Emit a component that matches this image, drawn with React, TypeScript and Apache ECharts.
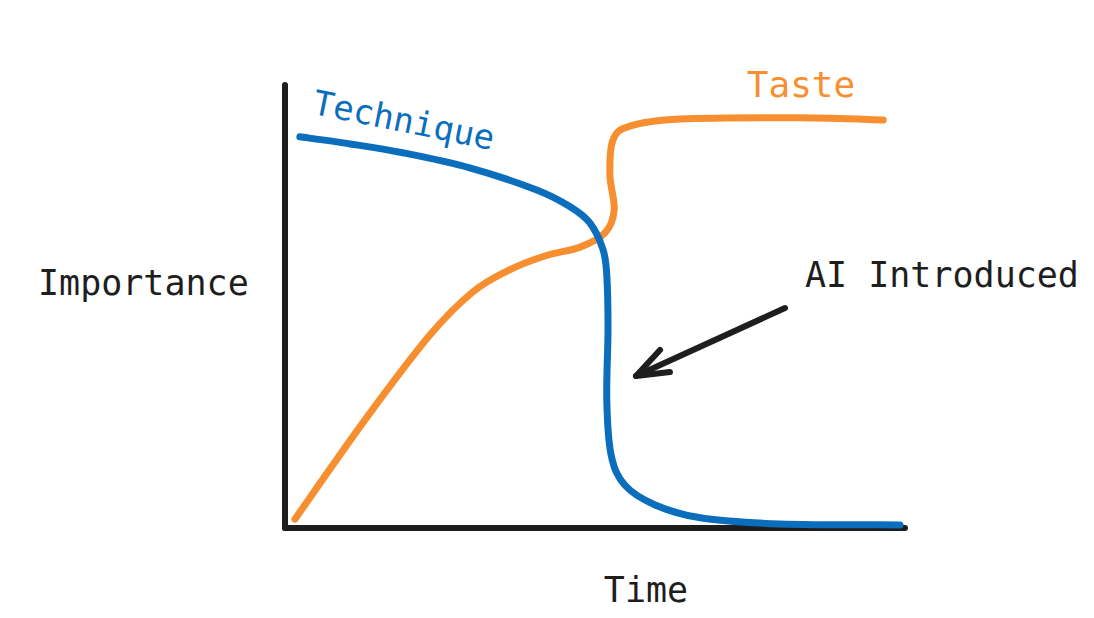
import React, { useEffect, useRef } from "react";
import * as echarts from "echarts";

const techniqueX = [2.4, 10.5, 19.0, 29.8, 40.6, 46.0, 49.2, 51.3, 51.9, 52.1, 51.9, 52.6, 54.8, 59.7, 67.0, 79.8, 99.2];
const techniqueY = [88.3, 86.7, 84.7, 81.3, 76.3, 72.5, 68.8, 62.8, 57.1, 45.0, 28.9, 16.5, 9.7, 5.2, 2.3, 0.9, 0.7];

const tasteX = [1.6, 12.9, 23.4, 30.3, 35.8, 41.9, 47.6, 51.6, 53.1, 52.4, 52.9, 55.6, 63.7, 83.1, 96.5];
const tasteY = [2.0, 24.4, 43.6, 53.3, 58.0, 61.4, 63.4, 66.6, 71.8, 79.7, 87.6, 90.7, 92.3, 92.6, 92.1];

const seriesNames = ["Technique", "Taste"];
const axisNames = { x: "Time", y: "Importance" };
const annotation = "AI Introduced";

const BLUE = "#0a6ebd";
const ORANGE = "#f78f30";
const INK = "#1e1e1e";
const FONT = "DejaVu Sans Mono";

function smoothPath(pts: number[][]): string {
  let d = `M${pts[0][0]},${pts[0][1]}`;
  for (let i = 0; i < pts.length - 1; i++) {
    const p0 = pts[i - 1] || pts[i];
    const p1 = pts[i];
    const p2 = pts[i + 1];
    const p3 = pts[i + 2] || p2;
    const c1x = p1[0] + (p2[0] - p0[0]) / 6;
    const c1y = p1[1] + (p2[1] - p0[1]) / 6;
    const c2x = p2[0] - (p3[0] - p1[0]) / 6;
    const c2y = p2[1] - (p3[1] - p1[1]) / 6;
    d += ` C${c1x},${c1y} ${c2x},${c2y} ${p2[0]},${p2[1]}`;
  }
  return d;
}

function curveSeries(name: string, xs: number[], ys: number[], color: string, z: number) {
  return {
    name,
    type: "custom",
    data: xs.map((x, i) => [x, ys[i]]),
    encode: { x: 0, y: 1 },
    z,
    renderItem: (params: any, api: any) => {
      if (params.dataIndex !== 0) return null;
      const pts = xs.map((x, i) => api.coord([x, ys[i]]));
      return {
        type: "path",
        shape: { pathData: smoothPath(pts) },
        style: { stroke: color, lineWidth: 7, fill: null, lineCap: "round", lineJoin: "round" },
      };
    },
  };
}

export default function App() {
  const ref = useRef<HTMLDivElement>(null);
  useEffect(() => {
    if (!ref.current) return;
    const chart = echarts.init(ref.current, null, { renderer: "svg" });
    chart.setOption({
      animation: false,
      backgroundColor: "#ffffff",
      grid: { left: 285, top: 85, right: 189, bottom: 90 },
      xAxis: {
        type: "value",
        min: 0,
        max: 100,
        axisLine: { show: true, lineStyle: { color: INK, width: 6, cap: "round" } },
        axisTick: { show: false },
        axisLabel: { show: false },
        splitLine: { show: false },
      },
      yAxis: {
        type: "value",
        min: 0,
        max: 100,
        axisLine: { show: true, lineStyle: { color: INK, width: 6, cap: "round" } },
        axisTick: { show: false },
        axisLabel: { show: false },
        splitLine: { show: false },
      },
      series: [
        curveSeries(seriesNames[1], tasteX, tasteY, ORANGE, 2),
        curveSeries(seriesNames[0], techniqueX, techniqueY, BLUE, 3),
      ],
      graphic: [
        {
          type: "text",
          x: 38,
          y: 283,
          style: { text: axisNames.y, font: `35px '${FONT}'`, fill: INK, textVerticalAlign: "middle" },
        },
        {
          type: "text",
          x: 646,
          y: 590,
          style: { text: axisNames.x, font: `35px '${FONT}'`, fill: INK, textAlign: "center", textVerticalAlign: "middle" },
        },
        {
          type: "text",
          x: 805,
          y: 275,
          style: { text: annotation, font: `35px '${FONT}'`, fill: INK, textVerticalAlign: "middle" },
        },
        {
          type: "text",
          x: 404,
          y: 120,
          rotation: -0.2,
          style: { text: seriesNames[0], font: `34px '${FONT}'`, fill: BLUE, textAlign: "center", textVerticalAlign: "middle" },
        },
        {
          type: "text",
          x: 801,
          y: 84,
          style: { text: seriesNames[1], font: `36px '${FONT}'`, fill: ORANGE, textAlign: "center", textVerticalAlign: "middle" },
        },
        {
          type: "polyline",
          shape: { points: [[785, 308], [636, 376]] },
          style: { stroke: INK, lineWidth: 6, lineCap: "round", fill: null },
        },
        {
          type: "polyline",
          shape: { points: [[660, 350], [636, 376], [670, 372]] },
          style: { stroke: INK, lineWidth: 6, lineCap: "round", lineJoin: "round", fill: null },
        },
      ],
    });
    return () => chart.dispose();
  }, []);
  return (
    <div
      ref={ref}
      style={{ position: "fixed", left: 0, top: 0, width: 1094, height: 618 }}
    />
  );
}
